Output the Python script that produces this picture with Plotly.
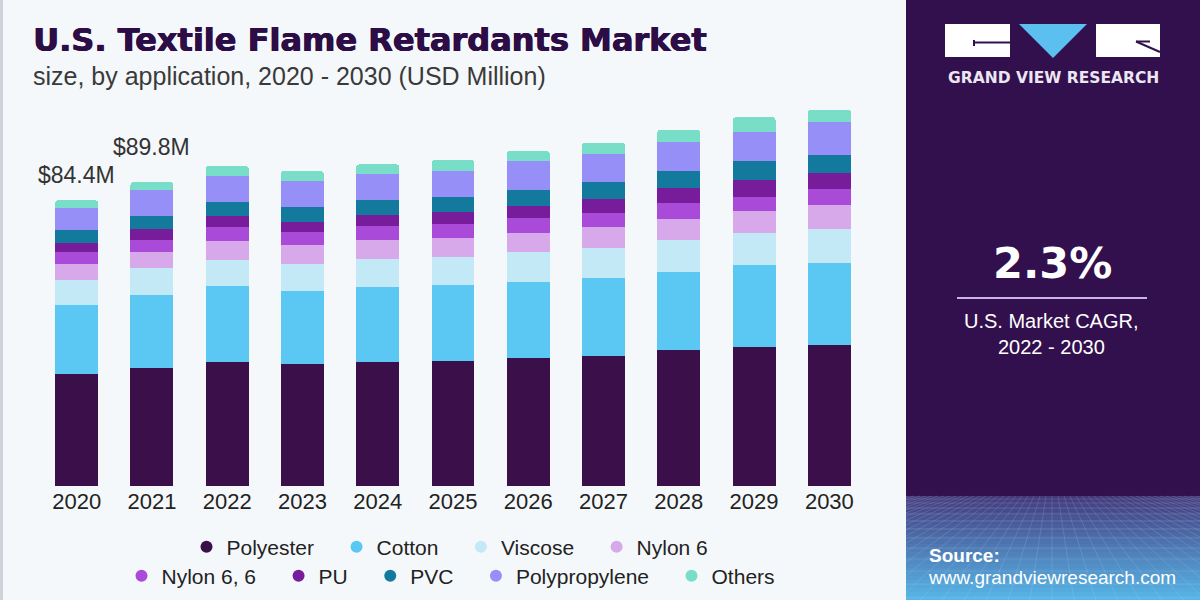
import plotly.graph_objects as go

# ---------------- data ----------------
years = ["2020", "2021", "2022", "2023", "2024", "2025", "2026", "2027", "2028", "2029", "2030"]
segments = ["Polyester", "Cotton", "Viscose", "Nylon 6", "Nylon 6, 6", "PU", "PVC", "Polypropylene", "Others"]
polyester = [33.2, 35.0, 36.6, 36.0, 36.7, 36.9, 37.7, 38.4, 40.2, 41.2, 41.7]
cotton = [20.3, 21.5, 22.4, 21.5, 22.2, 22.5, 22.6, 23.0, 23.0, 24.2, 24.2]
viscose = [7.4, 8.0, 7.9, 8.1, 8.2, 8.4, 8.7, 8.9, 9.4, 9.4, 10.1]
nylon6 = [4.6, 4.6, 5.4, 5.5, 5.6, 5.5, 5.6, 6.1, 6.4, 6.4, 6.9]
nylon66 = [3.6, 3.7, 4.2, 3.9, 4.0, 4.1, 4.5, 4.3, 4.5, 4.3, 4.8]
pu = [2.8, 3.2, 3.3, 3.0, 3.5, 3.6, 3.7, 4.2, 4.4, 4.9, 4.8]
pvc = [3.6, 3.9, 4.2, 4.4, 4.2, 4.3, 4.7, 4.8, 5.2, 5.6, 5.4]
polypropylene = [6.7, 7.4, 7.5, 7.6, 7.9, 7.8, 8.4, 8.4, 8.6, 8.7, 9.6]
others = [2.2, 2.5, 3.0, 3.0, 2.7, 3.2, 3.0, 3.3, 3.5, 4.2, 3.7]
value_labels = ["$84.4M", "$89.8M"]  # shown above the first two bars
cagr_text = "2.3%"

series = [polyester, cotton, viscose, nylon6, nylon66, pu, pvc, polypropylene, others]
colors = ["#3b0f4a", "#5ac8f3", "#c3e8f6", "#d7a8ea", "#aa4ad8", "#771d9c", "#137a9e", "#958ff7", "#78dec8"]

# ---------------- geometry helpers ----------------
W, H = 1200, 600
ML, MR, MT, MB = 39, 333, 100, 114
PW, PH = W - ML - MR, H - MT - MB
BG = "#f5f8fb"
PANEL = "#32104e"
TITLE_C = "#2c0d45"


def px(x):
    return (x - ML) / PW


def py(y):
    return (H - MB - y) / PH


FONT = "Liberation Sans, Arial, sans-serif"

fig = go.Figure()
row1 = 4
for i, (name, vals, col) in enumerate(zip(segments, series, colors)):
    fig.add_trace(go.Bar(
        x=years, y=vals, name=name, marker_color=col, marker_line_width=0, showlegend=False,
        hovertemplate=name + " %{x}: %{y}<extra></extra>",
    ))
# legend entries with round markers
for i, (name, col) in enumerate(zip(segments, colors)):
    last_in_row = (i == row1 - 1) or (i == len(segments) - 1)
    label = name if last_in_row else name + "\u00a0" * 3
    fig.add_trace(go.Scatter(
        x=[None], y=[None], mode="markers", name=label,
        marker=dict(symbol="circle", size=12.5, color=col),
        legend="legend" if i < row1 else "legend2", hoverinfo="skip",
    ))

totals = [sum(v) for v in zip(*series)]

shapes = []
annotations = []

# value labels above first bars
shifts = [25, 35]
for i, lab in enumerate(value_labels):
    annotations.append(dict(x=i, y=totals[i], xref="x", yref="y", text=lab, showarrow=False,
                            yanchor="middle", yshift=shifts[i],
                            font=dict(family=FONT, size=23, color="#333333")))

# title + subtitle
annotations.append(dict(x=px(31), y=py(40), xref="paper", yref="paper", xanchor="left", yanchor="middle",
                        text="<b>U.S. Textile Flame Retardants Market</b>", showarrow=False,
                        font=dict(family="DejaVu Sans, sans-serif", size=32, color=TITLE_C,
                                  shadow=f"0.7px 0 0 {TITLE_C}, -0.3px 0 0 {TITLE_C}")))
annotations.append(dict(x=px(31), y=py(76), xref="paper", yref="paper", xanchor="left", yanchor="middle",
                        text="size, by application, 2020 - 2030 (USD Million)", showarrow=False,
                        font=dict(family=FONT, size=25, color="#3a3a3a")))

# left thin border
shapes.append(dict(type="rect", xref="paper", yref="paper", x0=px(0), x1=px(3), y0=py(600), y1=py(0),
                   fillcolor="#cfd2d8", line_width=0, layer="below"))

# right panel
PX0 = 906
shapes.append(dict(type="rect", xref="paper", yref="paper", x0=px(PX0), x1=px(1200), y0=py(600), y1=py(0),
                   fillcolor=PANEL, line_width=0, layer="below"))


def lerp(c1, c2, t):
    a = [int(c1[i:i + 2], 16) for i in (1, 3, 5)]
    b = [int(c2[i:i + 2], 16) for i in (1, 3, 5)]
    return "#" + "".join(f"{round(a[k] + (b[k] - a[k]) * t):02x}" for k in range(3))


g0, g1 = 496, 600
nb = 26
for k in range(nb):
    y0 = g0 + (g1 - g0) * k / nb
    y1 = g0 + (g1 - g0) * (k + 1) / nb
    t = k / (nb - 1)
    c = lerp("#44387a", "#57b4e6", t ** 0.9)
    shapes.append(dict(type="rect", xref="paper", yref="paper", x0=px(PX0), x1=px(1200), y0=py(y1), y1=py(y0),
                       fillcolor=c, line_width=0, layer="below"))

# perspective grid (clipped to the panel)
hy = [499, 503, 508, 514, 521, 529, 538, 548, 559, 571, 584, 598]
for yy in hy:
    shapes.append(dict(type="line", xref="paper", yref="paper", x0=px(PX0), x1=px(1200), y0=py(yy), y1=py(yy),
                       line=dict(color="rgba(200,225,255,0.18)", width=1), layer="below"))
vx = 1052
for k in range(-30, 31):
    xa, ya = vx + k * 6, 496.0
    xb, yb = vx + k * 22, 600.0
    if xa < PX0 or xa > 1200:
        continue
    if xb < PX0:
        t = (PX0 - xa) / (xb - xa)
        xb, yb = PX0, ya + (yb - ya) * t
    if xb > 1200:
        t = (1200 - xa) / (xb - xa)
        xb, yb = 1200, ya + (yb - ya) * t
    shapes.append(dict(type="line", xref="paper", yref="paper", x0=px(xa), x1=px(xb), y0=py(ya), y1=py(yb),
                       line=dict(color="rgba(200,225,255,0.16)", width=1), layer="below"))

# logo
shapes.append(dict(type="rect", xref="paper", yref="paper", x0=px(945), x1=px(1010), y0=py(57), y1=py(24),
                   fillcolor="white", line_width=0))
shapes.append(dict(type="line", xref="paper", yref="paper", x0=px(974), x1=px(1010), y0=py(42.5), y1=py(42.5),
                   line=dict(color=PANEL, width=2)))
shapes.append(dict(type="line", xref="paper", yref="paper", x0=px(974), x1=px(974), y0=py(40), y1=py(46),
                   line=dict(color=PANEL, width=2)))
shapes.append(dict(type="path", xref="paper", yref="paper",
                   path=f"M {px(1019)} {py(24)} L {px(1087)} {py(24)} L {px(1053)} {py(58)} Z",
                   fillcolor="#5bbff0", line_width=0))
shapes.append(dict(type="rect", xref="paper", yref="paper", x0=px(1096), x1=px(1160), y0=py(57), y1=py(24),
                   fillcolor="white", line_width=0))
shapes.append(dict(type="line", xref="paper", yref="paper", x0=px(1136), x1=px(1160), y0=py(41.5), y1=py(52),
                   line=dict(color=PANEL, width=2)))
shapes.append(dict(type="line", xref="paper", yref="paper", x0=px(1136), x1=px(1150), y0=py(41.5), y1=py(41.5),
                   line=dict(color=PANEL, width=2)))
annotations.append(dict(x=px(1053), y=py(78), xref="paper", yref="paper", xanchor="center", yanchor="middle",
                        text="<b>GRAND VIEW RESEARCH</b>", showarrow=False,
                        font=dict(family="DejaVu Sans, sans-serif", size=15.5, color="#ece6f2")))

# CAGR block
annotations.append(dict(x=px(1052), y=py(263), xref="paper", yref="paper", xanchor="center", yanchor="middle",
                        text="<b>" + cagr_text + "</b>", showarrow=False,
                        font=dict(family="DejaVu Sans, sans-serif", size=43, color="white")))
shapes.append(dict(type="line", xref="paper", yref="paper", x0=px(957), x1=px(1147), y0=py(298), y1=py(298),
                   line=dict(color="#c9b3e3", width=2)))
annotations.append(dict(x=px(1051), y=py(321), xref="paper", yref="paper", xanchor="center", yanchor="middle",
                        text="U.S. Market CAGR,", showarrow=False,
                        font=dict(family=FONT, size=20, color="white")))
annotations.append(dict(x=px(1051), y=py(347), xref="paper", yref="paper", xanchor="center", yanchor="middle",
                        text="2022 - 2030", showarrow=False,
                        font=dict(family=FONT, size=20, color="white")))

# source
annotations.append(dict(x=px(927), y=py(555), xref="paper", yref="paper", xanchor="left", yanchor="middle",
                        text="<b>Source:</b>", showarrow=False,
                        font=dict(family=FONT, size=19, color="white")))
annotations.append(dict(x=px(926), y=py(577), xref="paper", yref="paper", xanchor="left", yanchor="middle",
                        text="www.grandviewresearch.com", showarrow=False,
                        font=dict(family=FONT, size=19, color="white")))

legend_common = dict(orientation="h", xanchor="center", yanchor="middle", bgcolor="rgba(0,0,0,0)",
                     xref="container", yref="container",
                     font=dict(family=FONT, size=21, color="#222222"), itemsizing="constant",
                     traceorder="normal")

fig.update_layout(
    width=W, height=H,
    margin=dict(l=ML, r=MR, t=MT, b=MB, pad=0, autoexpand=False),
    paper_bgcolor=BG, plot_bgcolor=BG,
    barmode="stack", bargap=0.43, barcornerradius=3,
    xaxis=dict(type="category", range=[-0.5, len(years) - 0.5], showgrid=False, showline=False,
               zeroline=False, ticks="", ticklabelstandoff=0,
               tickfont=dict(family=FONT, size=22, color="#222222"), fixedrange=True),
    yaxis=dict(visible=False, range=[0, PH / 3.385], fixedrange=True),
    legend=dict(x=450 / W, y=1 - 547 / H, **legend_common),
    legend2=dict(x=451 / W, y=1 - 576 / H, **legend_common),
    shapes=shapes, annotations=annotations,
    showlegend=True,
)

fig.write_html("out.html")
